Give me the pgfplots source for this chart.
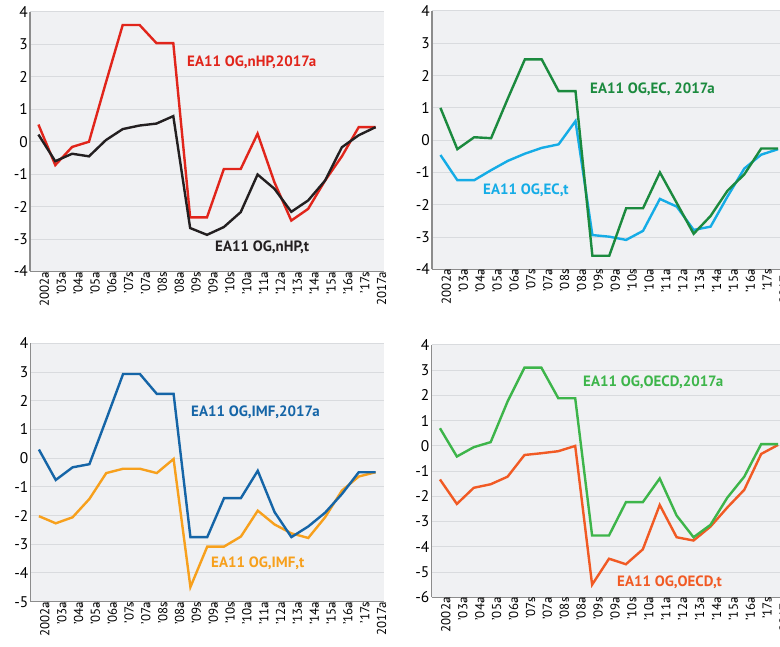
\documentclass[border=0pt]{standalone}
\usepackage{fontspec}
\setmainfont{PT Sans}
\usepackage{pgfplots}
\pgfplotsset{compat=1.18}
\definecolor{bg}{HTML}{F0F1F3}
\definecolor{gridc}{HTML}{D9DBDE}
\definecolor{axc}{HTML}{8C8C8C}
\definecolor{cred}{HTML}{E1251B}
\definecolor{cblack}{HTML}{231F20}
\definecolor{cdgreen}{HTML}{1B8A3E}
\definecolor{clblue}{HTML}{15ACE6}
\definecolor{cblue}{HTML}{1565A7}
\definecolor{corange}{HTML}{F7A01C}
\definecolor{cgreen}{HTML}{3DB54A}
\definecolor{cred2}{HTML}{F15A24}
\pgfplotsset{ogstyle/.style={
  scale only axis,
  xmin=-0.5, xmax=20.5,
  axis x line*=bottom, axis y line*=left,
  axis line style={axc, line width=1.2bp, -},
  axis background/.style={fill=bg},
  xtick={0,...,20},
  xticklabels={2002a,'03a,'04a,'05a,'06a,'07s,'07a,'08s,'08a,'09s,'09a,'10s,'10a,'11a,'12a,'13a,'14a,'15a,'16a,'17s,2017a},
  major tick length=0pt,
  minor xtick={0.5,1.5,...,19.5},
  minor x tick style={axc, line width=1bp},
  minor tick length=5bp, tick align=outside,
  ytick distance=1, ymajorgrids,
  grid style={gridc, line width=1bp},
  xticklabel style={rotate=90, anchor=east, font=\fontsize{13}{14}\selectfont, inner sep=0pt, yshift=-6bp},
  yticklabel style={font=\fontsize{15.5}{17}\selectfont, inner sep=2bp},
  /pgf/number format/assume math mode=true,
  every axis plot/.append style={line width=2.4bp, mark=none, line join=miter},
  clip=false,
}}
\newcommand{\lab}[4]{\node[anchor=west, inner sep=0pt, text=#3, font=\bfseries\fontsize{15}{16}\selectfont] at (#1,#2) {#4};}
\begin{document}
\begin{tikzpicture}[x=1bp,y=1bp]
\path[use as bounding box] (0,0) rectangle (780,647);
\clip (0,0) rectangle (780,647);
% Panel 1
\begin{axis}[ogstyle, at={(30bp,375.5bp)}, anchor=south west, width=354bp, height=259.5bp, ymin=-4, ymax=4]
\addplot[cred] coordinates {(0,0.53)(1,-0.72)(2,-0.16)(3,0.0)(4,1.82)(5,3.6)(6,3.6)(7,3.04)(8,3.04)(9,-2.33)(10,-2.33)(11,-0.84)(12,-0.84)(13,0.25)(14,-1.25)(15,-2.43)(16,-2.07)(17,-1.2)(18,-0.45)(19,0.45)(20,0.45)};
\addplot[cblack] coordinates {(0,0.22)(1,-0.6)(2,-0.37)(3,-0.45)(4,0.05)(5,0.39)(6,0.5)(7,0.56)(8,0.79)(9,-2.66)(10,-2.87)(11,-2.63)(12,-2.17)(13,-1.01)(14,-1.45)(15,-2.16)(16,-1.81)(17,-1.2)(18,-0.17)(19,0.2)(20,0.45)};
\end{axis}
% Panel 2
\begin{axis}[ogstyle, at={(432bp,377.7bp)}, anchor=south west, width=354.5bp, height=258.3bp, ymin=-4, ymax=4]
\addplot[clblue] coordinates {(0,-0.46)(1,-1.24)(2,-1.24)(3,-0.93)(4,-0.64)(5,-0.42)(6,-0.24)(7,-0.13)(8,0.59)(9,-2.94)(10,-2.99)(11,-3.09)(12,-2.81)(13,-1.82)(14,-2.06)(15,-2.78)(16,-2.68)(17,-1.75)(18,-0.88)(19,-0.45)(20,-0.28)};
\addplot[cdgreen] coordinates {(0,1.0)(1,-0.28)(2,0.09)(3,0.06)(4,1.3)(5,2.5)(6,2.5)(7,1.52)(8,1.52)(9,-3.58)(10,-3.58)(11,-2.11)(12,-2.11)(13,-1.0)(14,-1.95)(15,-2.9)(16,-2.35)(17,-1.57)(18,-1.06)(19,-0.26)(20,-0.26)};
\end{axis}
% Panel 3
\begin{axis}[ogstyle, at={(30.5bp,45.3bp)}, anchor=south west, width=353.5bp, height=258.4bp, ymin=-5, ymax=4]
\addplot[corange] coordinates {(0,-2.02)(1,-2.27)(2,-2.06)(3,-1.42)(4,-0.52)(5,-0.37)(6,-0.37)(7,-0.52)(8,-0.03)(9,-4.49)(10,-3.08)(11,-3.08)(12,-2.73)(13,-1.83)(14,-2.31)(15,-2.62)(16,-2.78)(17,-2.06)(18,-1.13)(19,-0.64)(20,-0.49)};
\addplot[cblue] coordinates {(0,0.3)(1,-0.76)(2,-0.32)(3,-0.21)(4,1.35)(5,2.93)(6,2.93)(7,2.24)(8,2.24)(9,-2.75)(10,-2.75)(11,-1.39)(12,-1.39)(13,-0.44)(14,-1.88)(15,-2.75)(16,-2.38)(17,-1.9)(18,-1.25)(19,-0.49)(20,-0.49)};
\end{axis}
% Panel 4
\begin{axis}[ogstyle, at={(431.5bp,49.7bp)}, anchor=south west, width=355bp, height=252.3bp, ymin=-6, ymax=4]
\addplot[cred2] coordinates {(0,-1.33)(1,-2.3)(2,-1.66)(3,-1.52)(4,-1.22)(5,-0.36)(6,-0.29)(7,-0.21)(8,0.0)(9,-5.5)(10,-4.47)(11,-4.69)(12,-4.1)(13,-2.34)(14,-3.62)(15,-3.75)(16,-3.2)(17,-2.44)(18,-1.74)(19,-0.32)(20,0.04)};
\addplot[cgreen] coordinates {(0,0.7)(1,-0.42)(2,-0.05)(3,0.15)(4,1.76)(5,3.1)(6,3.1)(7,1.89)(8,1.89)(9,-3.55)(10,-3.55)(11,-2.23)(12,-2.23)(13,-1.29)(14,-2.76)(15,-3.62)(16,-3.13)(17,-2.05)(18,-1.22)(19,0.07)(20,0.07)};
\end{axis}
\lab{187}{585}{cred}{EA11 OG,nHP,2017a}
\lab{215}{400}{cblack}{EA11 OG,nHP,t}
\lab{590}{558}{cdgreen}{EA11 OG,EC, 2017a}
\lab{483}{457}{clblue}{EA11 OG,EC,t}
\lab{191}{235}{cblue}{EA11 OG,IMF,2017a}
\lab{211}{84}{corange}{EA11 OG,IMF,t}
\lab{583}{265}{cgreen}{EA11 OG,OECD,2017a}
\lab{617}{65}{cred2}{EA11 OG,OECD,t}
\end{tikzpicture}
\end{document}
